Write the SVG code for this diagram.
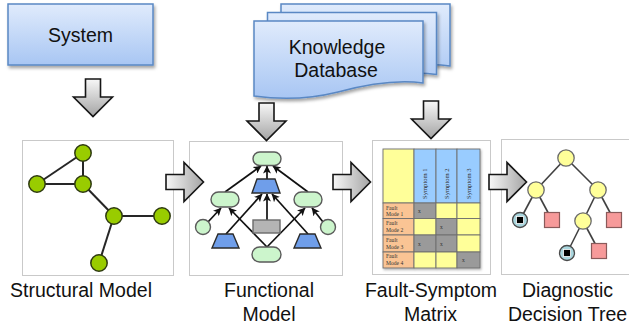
<svg xmlns="http://www.w3.org/2000/svg" width="629" height="329" viewBox="0 0 629 329">
  <defs>
    <style>
      .lbl { font-family: "Liberation Sans", Arial, sans-serif; font-size: 19.5px; fill: #111; text-anchor: middle; }
      .frame { fill: #fff; stroke: #c9c9c9; stroke-width: 1; }
      .blue { fill: url(#blueGrad); stroke: #5a88c4; stroke-width: 1.5; }
      .bigarrow { fill: url(#arrowGrad); stroke: #161616; stroke-width: 1.6; stroke-linejoin: miter; }
      .sedge { stroke: #262626; stroke-width: 2; fill: none; }
      .snode { fill: #99cc00; stroke: #2e3a10; stroke-width: 1.5; }
      .fedge { stroke: #111; stroke-width: 1.7; fill: none; marker-end: url(#tip); }
      .pill { fill: #ccf5cc; stroke: #5a5a5a; stroke-width: 1.4; }
      .trap { fill: #6f9eea; stroke: #2b2b2b; stroke-width: 1.4; }
      .grey { fill: #b4b4b4; stroke: #6a6a6a; stroke-width: 1.4; }
      .cell { stroke: #6e6e6e; stroke-width: 0.9; }
      .yl { fill: #ffff99; }
      .gy { fill: #9a9a9a; }
      .hd { fill: #99ccff; }
      .pc { fill: #fac494; }
      .tiny { font-family: "Liberation Serif", "Times New Roman", serif; font-size: 5.6px; fill: #333; }
      .sym { font-family: "Liberation Serif", "Times New Roman", serif; font-size: 6.6px; fill: #333; }
      .tedge { stroke: #404040; stroke-width: 1.6; fill: none; }
      .tyel { fill: #ffff99; stroke: #6b6b6b; stroke-width: 1.3; }
      .tsq { fill: #f79a9a; stroke: #8a5a5a; stroke-width: 1.2; }
      .tleaf { fill: #a9d6de; stroke: #4a4a4a; stroke-width: 1.3; }
    </style>
    <linearGradient id="blueGrad" x1="0" y1="0" x2="0" y2="1">
      <stop offset="0" stop-color="#e0ebfc"/>
      <stop offset="1" stop-color="#a8c6f3"/>
    </linearGradient>
    <linearGradient id="arrowGrad" x1="0" y1="0" x2="0" y2="1">
      <stop offset="0" stop-color="#f7f7f7"/>
      <stop offset="1" stop-color="#a4a4a4"/>
    </linearGradient>
    <filter id="shadow" x="-10%" y="-10%" width="130%" height="140%">
      <feDropShadow dx="1.5" dy="2.5" stdDeviation="1.6" flood-color="#000" flood-opacity="0.35"/>
    </filter>
    <filter id="softShadow" x="-10%" y="-10%" width="130%" height="130%">
      <feDropShadow dx="1" dy="1.5" stdDeviation="1.2" flood-color="#000" flood-opacity="0.3"/>
    </filter>
    <!-- block arrow pointing down, origin at top-centre of the shaft -->
    <path id="bigArrow" d="M -7.5 0 H 7.5 V 18 H 19.5 L 0 37.5 L -19.5 18 H -7.5 Z"/>
    <!-- wavy-bottom document page -->
    <path id="doc" d="M0 0 H169 V62 C140 58 110 64 84 71 C56 78 28 79 0 75 Z"/>
    <marker id="tip" viewBox="0 0 8 8" refX="7.5" refY="4" markerWidth="8" markerHeight="8" markerUnits="userSpaceOnUse" orient="auto">
      <path d="M0 0 L8 4 L0 8 L2 4 Z" fill="#111"/>
    </marker>
  </defs>

  <rect width="629" height="329" fill="#fff"/>

  <!-- System -->
  <g id="system">
    <rect x="8" y="4" width="145" height="61" class="blue" filter="url(#shadow)"/>
    <text x="80.5" y="42" class="lbl">System</text>
  </g>

  <!-- Knowledge Database (stacked pages) -->
  <g id="knowledge-database">
    <use href="#doc" transform="translate(281,4)" class="blue" filter="url(#shadow)"/>
    <use href="#doc" transform="translate(267.5,12.5)" class="blue" filter="url(#shadow)"/>
    <use href="#doc" transform="translate(254,21)" class="blue" filter="url(#shadow)"/>
    <text x="337" y="54" class="lbl">Knowledge</text>
    <text x="336" y="77" class="lbl">Database</text>
  </g>

  <!-- Structural Model -->
  <g id="structural-model">
    <rect x="22.5" y="140.5" width="151" height="135" class="frame"/>
    <line x1="83" y1="153" x2="37" y2="184" class="sedge"/>
    <line x1="83" y1="153" x2="83" y2="184" class="sedge"/>
    <line x1="37" y1="184" x2="83" y2="184" class="sedge"/>
    <line x1="83" y1="184" x2="114" y2="216" class="sedge"/>
    <line x1="114" y1="216" x2="162" y2="216" class="sedge"/>
    <line x1="114" y1="216" x2="99" y2="263" class="sedge"/>
    <circle cx="83" cy="153" r="8.2" class="snode"/>
    <circle cx="37" cy="184" r="8.2" class="snode"/>
    <circle cx="83" cy="184" r="8.2" class="snode"/>
    <circle cx="114" cy="216" r="8.2" class="snode"/>
    <circle cx="162" cy="216" r="8.2" class="snode"/>
    <circle cx="99" cy="263" r="8.2" class="snode"/>
    <text x="81" y="297" class="lbl">Structural Model</text>
  </g>

  <!-- Functional Model -->
  <g id="functional-model">
    <rect x="189.5" y="141.5" width="153" height="134" class="frame"/>
    <line x1="225" y1="192" x2="261" y2="166" class="fedge"/>
    <line x1="308" y1="192" x2="273" y2="166" class="fedge"/>
    <line x1="267" y1="179" x2="267" y2="166" class="fedge"/>
    <line x1="267" y1="220" x2="267" y2="194" class="fedge"/>
    <line x1="226" y1="234" x2="262" y2="194" class="fedge"/>
    <line x1="308" y1="234" x2="272" y2="194" class="fedge"/>
    <line x1="267" y1="247" x2="229" y2="208" class="fedge"/>
    <line x1="267" y1="247" x2="305" y2="208" class="fedge"/>
    <line x1="208" y1="222" x2="221" y2="208" class="fedge"/>
    <line x1="323" y1="222" x2="312" y2="208" class="fedge"/>
    <rect x="253" y="152" width="28" height="13.5" rx="6.7" class="pill"/>
    <rect x="211" y="192" width="28" height="15" rx="7.5" class="pill"/>
    <rect x="294" y="192" width="28" height="15" rx="7.5" class="pill"/>
    <rect x="252" y="247" width="29" height="15" rx="7.5" class="pill"/>
    <circle cx="203" cy="227" r="7.5" class="pill"/>
    <circle cx="328" cy="227" r="7.5" class="pill"/>
    <path d="M257 179 H275 L280 193 H252 Z" class="trap"/>
    <path d="M218 234 H233 L239 248 H212 Z" class="trap"/>
    <path d="M300 234 H315 L321 248 H294 Z" class="trap"/>
    <rect x="253" y="220" width="27" height="13" class="grey"/>
    <text x="269" y="297" class="lbl">Functional</text>
    <text x="269" y="321" class="lbl">Model</text>
  </g>

  <!-- Fault-Symptom Matrix -->
  <g id="fault-symptom-matrix">
    <rect x="372.5" y="140.5" width="118" height="134" class="frame"/>
    <g filter="url(#softShadow)">
      <rect x="383" y="149" width="31" height="54" class="cell yl"/>
      <rect x="414" y="149" width="22" height="54" class="cell hd"/>
      <rect x="436" y="149" width="21" height="54" class="cell hd"/>
      <rect x="457" y="149" width="23" height="54" class="cell hd"/>

      <rect x="383" y="203" width="31" height="15.5" class="cell pc"/>
      <rect x="414" y="203" width="22" height="15.5" class="cell gy"/>
      <rect x="436" y="203" width="21" height="15.5" class="cell yl"/>
      <rect x="457" y="203" width="23" height="15.5" class="cell yl"/>

      <rect x="383" y="218.5" width="31" height="16.5" class="cell pc"/>
      <rect x="414" y="218.5" width="22" height="16.5" class="cell yl"/>
      <rect x="436" y="218.5" width="21" height="16.5" class="cell gy"/>
      <rect x="457" y="218.5" width="23" height="16.5" class="cell yl"/>

      <rect x="383" y="235" width="31" height="17" class="cell pc"/>
      <rect x="414" y="235" width="22" height="17" class="cell gy"/>
      <rect x="436" y="235" width="21" height="17" class="cell gy"/>
      <rect x="457" y="235" width="23" height="17" class="cell yl"/>

      <rect x="383" y="252" width="31" height="16" class="cell pc"/>
      <rect x="414" y="252" width="22" height="16" class="cell yl"/>
      <rect x="436" y="252" width="21" height="16" class="cell yl"/>
      <rect x="457" y="252" width="23" height="16" class="cell gy"/>
    </g>
    <text class="sym" transform="translate(427,199) rotate(-90)">Symptom 1</text>
    <text class="sym" transform="translate(448.5,199) rotate(-90)">Symptom 2</text>
    <text class="sym" transform="translate(470.5,199) rotate(-90)">Symptom 3</text>
    <text class="tiny" x="386" y="209.5">Fault</text>
    <text class="tiny" x="386" y="216">Mode 1</text>
    <text class="tiny" x="386" y="225">Fault</text>
    <text class="tiny" x="386" y="232">Mode 2</text>
    <text class="tiny" x="386" y="241.5">Fault</text>
    <text class="tiny" x="386" y="248.5">Mode 3</text>
    <text class="tiny" x="386" y="258">Fault</text>
    <text class="tiny" x="386" y="265">Mode 4</text>
    <text class="tiny" x="418" y="212.5">x</text>
    <text class="tiny" x="440" y="229">x</text>
    <text class="tiny" x="418" y="245.5">x</text>
    <text class="tiny" x="440" y="245.5">x</text>
    <text class="tiny" x="462" y="262">x</text>
    <text x="431" y="297" class="lbl">Fault-Symptom</text>
    <text x="430.5" y="321" class="lbl">Matrix</text>
  </g>

  <!-- Diagnostic Decision Tree -->
  <g id="diagnostic-decision-tree">
    <rect x="501.5" y="139.5" width="140" height="135" class="frame"/>
    <line x1="566" y1="158" x2="536" y2="190" class="tedge"/>
    <line x1="566" y1="158" x2="598" y2="190" class="tedge"/>
    <line x1="536" y1="190" x2="520" y2="220" class="tedge"/>
    <line x1="536" y1="190" x2="552" y2="220" class="tedge"/>
    <line x1="598" y1="190" x2="583" y2="221" class="tedge"/>
    <line x1="598" y1="190" x2="614" y2="220" class="tedge"/>
    <line x1="583" y1="221" x2="567" y2="253" class="tedge"/>
    <line x1="583" y1="221" x2="599" y2="251" class="tedge"/>
    <circle cx="566" cy="158" r="8.2" class="tyel"/>
    <circle cx="536" cy="190" r="8.2" class="tyel"/>
    <circle cx="598" cy="190" r="8.2" class="tyel"/>
    <circle cx="583" cy="221" r="8.2" class="tyel"/>
    <rect x="544.5" y="212.5" width="15" height="15" class="tsq"/>
    <rect x="606.5" y="212.5" width="15" height="15" class="tsq"/>
    <rect x="591.5" y="243.5" width="15" height="15" class="tsq"/>
    <circle cx="520" cy="220" r="7.5" class="tleaf"/>
    <rect x="516.5" y="216.5" width="7" height="7" fill="#000" stroke="#fff" stroke-width="0.8"/>
    <circle cx="567" cy="253" r="7.5" class="tleaf"/>
    <rect x="563.5" y="249.5" width="7" height="7" fill="#000" stroke="#fff" stroke-width="0.8"/>
    <text x="567.5" y="297" class="lbl">Diagnostic</text>
    <text x="567.5" y="321" class="lbl">Decision Tree</text>
  </g>

  <!-- block arrows between stages -->
  <g id="connectors">
    <use href="#bigArrow" class="bigarrow" transform="translate(93,79)"/>
    <use href="#bigArrow" class="bigarrow" transform="translate(266.5,103)"/>
    <use href="#bigArrow" class="bigarrow" transform="translate(431,101)"/>
    <use href="#bigArrow" class="bigarrow" transform="translate(166,182) rotate(-90)"/>
    <use href="#bigArrow" class="bigarrow" transform="translate(333,182) rotate(-90)"/>
    <use href="#bigArrow" class="bigarrow" transform="translate(489,182) rotate(-90)"/>
  </g>
</svg>
